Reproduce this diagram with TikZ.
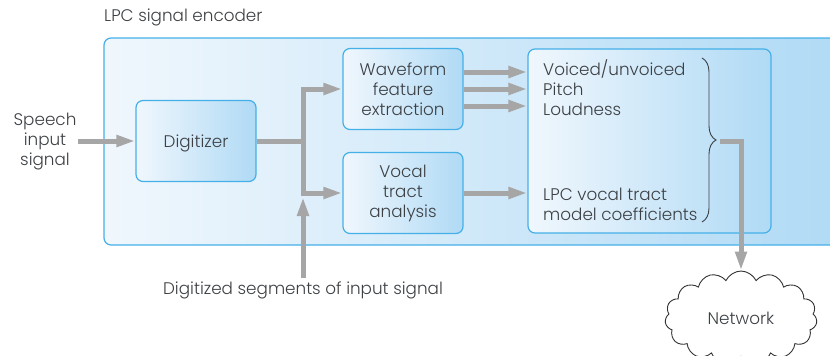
\documentclass[tikz,border=0pt]{standalone}
\usepackage{fontspec}
\setmainfont{Poppins}[UprightFont=* Light]
\usetikzlibrary{arrows.meta,shapes.symbols,decorations.pathreplacing}
\definecolor{boxline}{HTML}{45B0E8}
\definecolor{boxlight}{HTML}{F0F7FD}
\definecolor{boxdark}{HTML}{B0DAF5}
\definecolor{flowgray}{HTML}{A6A6A6}
\definecolor{inkgray}{HTML}{3C4044}
\begin{document}
\begin{tikzpicture}[x=1pt,y=-1pt,
    label text/.style={font=\fontsize{16.8}{20}\selectfont,text=inkgray,align=center},
    block/.style={draw=boxline,line width=1.2pt,rounded corners=7pt,left color=boxlight,right color=boxdark,minimum height=81pt,minimum width=120pt,label text},
    flow/.style={draw=flowgray,line width=5pt,-{Triangle[length=19pt,width=11pt]}},
    plain flow/.style={draw=flowgray,line width=5pt}]
  \clip (0,0) rectangle (830,356);
  \node[block,minimum width=745pt,minimum height=207pt] (encoder) at (476.5,141.5) {};
  \node[label text,anchor=west,inner sep=0pt] (title) at (104,17) {LPC signal encoder};
  \node[label text] (speech) at (45,142) {Speech\\input\\signal};
  \node[block,text height=12pt,text depth=0pt] (digitizer) at (196,141) {Digitizer};
  \node[block] (waveform) at (403,89) {Waveform\\feature\\extraction};
  \node[block] (vocal) at (403,193) {Vocal\\tract\\analysis};
  \node[block,minimum width=243pt,minimum height=184pt] (params) at (649.5,141) {};
  \node[label text,align=left,anchor=west,inner sep=0pt] (voiced) at (543,88) {Voiced/unvoiced\\Pitch\\Loudness};
  \node[label text,align=left,anchor=west,inner sep=0pt] (coeffs) at (543,204) {LPC vocal tract\\model coefficients};
  \node[label text] (segments) at (303,290) {Digitized segments of input signal};
  \node[cloud,draw=black!80,line width=0.9pt,fill=white,cloud puffs=15,cloud puff arc=130,aspect=1.7,minimum width=152pt,minimum height=94pt,label text] (network) at (741,318) {Network};
  \coordinate (branch) at (303,141);
  \coordinate (bracetop) at (702,58);
  \coordinate (bracebottom) at (702,222);
  \coordinate (braceout) at (720,141);
  \coordinate (turn) at (741,141);
  \draw[draw=inkgray,line width=0.9pt,decorate,decoration={brace,amplitude=14pt,aspect=0.5}] (bracetop) -- (bracebottom);
  \draw[flow] (78,141) -- (digitizer.west);
  \draw[plain flow] (digitizer.east) -- (branch);
  \draw[flow] (branch) -- (branch |- waveform.west) -- (waveform.west);
  \draw[flow] (branch) -- (branch |- vocal.west) -- (vocal.west);
  \draw[flow] (segments.north) -- (303,197);
  \draw[flow] ([yshift=17pt]waveform.east) -- ([yshift=17pt]waveform.east -| params.west);
  \draw[flow] (waveform.east) -- (waveform.east -| params.west);
  \draw[flow] ([yshift=-17pt]waveform.east) -- ([yshift=-17pt]waveform.east -| params.west);
  \draw[flow] (vocal.east) -- (vocal.east -| params.west);
  \draw[flow] (braceout) -- (turn) -- (network.north);
\end{tikzpicture}
\end{document}
